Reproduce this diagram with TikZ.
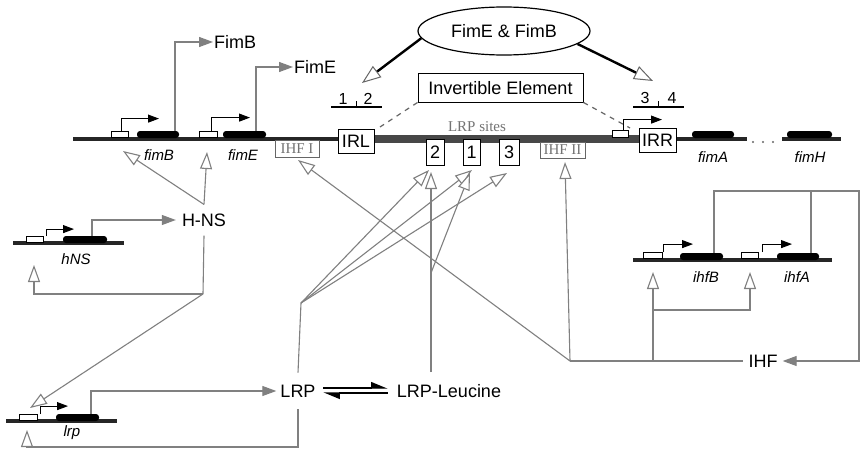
\documentclass[tikz,border=0pt]{standalone}
\usepackage{fontspec}
\setmainfont{Liberation Sans}
\newfontfamily\serfont{Liberation Serif}
\usetikzlibrary{arrows.meta,shapes.geometric,calc,backgrounds}
\begin{document}
\begin{tikzpicture}[x=1pt,y=-1pt,
  big/.style={font=\fontsize{18}{20}\selectfont, inner sep=1pt},
  num/.style={font=\fontsize{16}{18}\selectfont, inner sep=0pt},
  gl/.style={font=\fontsize{15}{17}\selectfont\itshape, inner sep=0pt},
  conn/.style={draw=black!50, line width=1.1pt},
  hol/.style={-{Triangle[length=17pt,width=12pt,fill=white,line width=1.1pt]}},
  fil/.style={-{Triangle[length=14pt,width=10pt]}},
  dna/.style={line width=3.2pt, black!85},
  band/.style={line width=8pt, black!72},
  gene/.style={fill=black, rounded corners=3pt, minimum height=7pt, inner sep=0pt},
  prom/.style={draw=black, fill=white, line width=0.8pt, minimum height=6pt, inner sep=0pt},
  parr/.style={line width=1pt, black, -{Triangle[length=11pt,width=8pt]}},
  box/.style={draw=black, fill=white, line width=1pt, inner sep=0pt, font=\fontsize{18}{20}\selectfont},
  sbox/.style={draw=black!60, fill=white, line width=1pt, inner sep=0pt, font=\fontsize{15}{16}\selectfont\serfont, text=black!55},
  thk/.style={line width=2.4pt, black, -{Triangle[length=19pt,width=14pt,fill=white,color=black!60,line width=1pt]}},
  dsh/.style={draw=black!60, line width=1.2pt, dash pattern=on 5pt off 5pt},
  eqa/.style={line width=1.4pt, black, -{Triangle[harpoon,length=15pt,width=12pt]}}
]
\useasboundingbox (0,0) rectangle (862,452);

% ---------- main operon region ----------
\node[prom, minimum width=17pt] (pB) at (119.5,134) {};
\node[gene, minimum width=42pt] (gB) at (158,134.5) {};
\node[prom, minimum width=18pt] (pE) at (208,134) {};
\node[gene, minimum width=43pt] (gE) at (244.5,134.5) {};
\node[gl] (lB) at (159,155) {fimB};
\node[gl] (lE) at (243,155) {fimE};

\node[sbox, minimum width=44pt, minimum height=17pt] (IHFI) at (297,148.5) {IHF I};
\node[box, minimum width=36pt, minimum height=24pt] (IRL) at (356,141) {IRL};
\node[box, minimum width=18pt, minimum height=26pt] (b2) at (435,152) {2};
\node[box, minimum width=17pt, minimum height=26pt] (b1) at (471.5,152) {1};
\node[box, minimum width=20pt, minimum height=26pt] (b3) at (509,152) {3};
\node[sbox, minimum width=45pt, minimum height=16pt] (IHFII) at (562.5,150) {IHF II};
\node[box, minimum width=37pt, minimum height=24pt] (IRR) at (657.5,140.5) {IRR};
\node[font=\fontsize{15}{17}\selectfont\serfont, text=black!55, inner sep=0pt] (sites) at (477,127) {LRP sites};
\node[prom, minimum width=16pt, minimum height=7pt] (pR) at (620,133.5) {};

\node[gene, minimum width=42pt] (gA) at (713,134.5) {};
\node[gene, minimum width=45pt] (gH2) at (809.5,134.5) {};
\node[gl] (lA) at (713,157) {fimA};
\node[gl] (lH2) at (810,157) {fimH};

\node[big, anchor=west] (FimB) at (213,42) {FimB};
\node[big, anchor=west] (FimE) at (293,67) {FimE};

\node[draw=black, ellipse, line width=1.2pt, minimum width=172pt, minimum height=48pt, big] (FE) at (504,31) {FimE \& FimB};
\node[draw=black, line width=1pt, minimum width=165pt, minimum height=28pt, big, inner sep=0pt] (IE) at (500.5,88) {Invertible Element};

\node[num] (n1) at (343,99) {1};
\node[num] (n2) at (368,99) {2};
\node[num] (n3) at (645,98) {3};
\node[num] (n4) at (672,98) {4};

% ---------- hNS ----------
\node[prom, minimum width=17pt] (pH) at (34.5,239.5) {};
\node[gene, minimum width=44pt] (gH) at (85,239.5) {};
\node[gl] (lHn) at (76,259) {hNS};
\node[big, inner xsep=6pt, inner ysep=9pt] (HNS) at (204,220) {H-NS};

% ---------- lrp ----------
\node[prom, minimum width=18pt] (pL) at (28,417.5) {};
\node[gene, minimum width=43pt] (gL) at (77.5,417.5) {};
\node[gl] (lL) at (72,433) {lrp};
\node[big, inner xsep=4pt, inner ysep=12pt] (LRP) at (298,391) {LRP};
\node[big, inner xsep=4pt, inner ysep=12pt] (LRPL) at (449,391) {LRP-Leucine};

% ---------- ihf ----------
\node[prom, minimum width=19pt] (pI1) at (652.5,255.5) {};
\node[gene, minimum width=43pt] (gI1) at (701.5,256.5) {};
\node[prom, minimum width=17pt] (pI2) at (749.5,255.5) {};
\node[gene, minimum width=42pt] (gI2) at (798,256.5) {};
\node[gl] (lI1) at (706,277) {ihfB};
\node[gl] (lI2) at (797,277) {ihfA};
\node[big, inner xsep=5pt] (IHF) at (763,361) {IHF};

% ---------- coordinates ----------
\coordinate (m0) at (73,139);
\coordinate (m1) at (340,139);
\coordinate (m2) at (372,139);
\coordinate (m3) at (641,139);
\coordinate (m4) at (674,139);
\coordinate (m5) at (747,139);
\coordinate (m6) at (782,139);
\coordinate (m7) at (841,139);
\coordinate (tB) at (123,151);
\coordinate (tE) at (207,152);
\coordinate (J1) at (203,294);
\coordinate (tH) at (34,265);
\coordinate (tL) at (30,408);
\coordinate (cLb) at (27,447);
\coordinate (tLb) at (27,430);
\coordinate (J2) at (301,303);
\coordinate (t2a) at (429,170);
\coordinate (t1a) at (472,170);
\coordinate (t3a) at (507,173);
\coordinate (t2b) at (431,172);
\coordinate (J5) at (431,273);
\coordinate (t1b) at (470,173);
\coordinate (J3) at (570,361);
\coordinate (tI1) at (298,160);
\coordinate (tI2) at (565,162);
\coordinate (J4) at (653,361);
\coordinate (J6) at (653,310);
\coordinate (tI3) at (653,272);
\coordinate (tI4) at (750,272);
\coordinate (K1) at (859,191);
\coordinate (K2) at (811,191);
\coordinate (t12) at (362,83);
\coordinate (t34) at (653,81);
\coordinate (d1) at (380,127);
\coordinate (d2) at (630,128);

\begin{pgfonlayer}{background}
  \fill[white] (0,0) rectangle (862,452);
  % DNA
  \draw[dna] (m0) -- (m1);
  \draw[band] (m2) -- (m3);
  \draw[dna] (m4) -- (m5);
  \draw[dna] (m6) -- (m7);
  \foreach \x in {753,763,773} \fill[black!60] (\x,142) circle (1.1pt);
  \draw[dna] (13,243) -- (124,243);
  \draw[dna] (6,421) -- (117,421);
  \draw[dna] (633,260) -- (832,260);
\end{pgfonlayer}

% promoter arrows
\draw[parr] ([xshift=1.5pt]pB.north) -- ++(0,-12) -- ++(38,0);
\draw[parr] ([xshift=3pt]pE.north) -- ++(0,-13) -- ++(39,0);
\draw[parr] ([xshift=3pt]pR.north) -- ++(0,-10) -- ++(39,0);
\draw[parr] ([xshift=11.5pt]pH.north) -- ++(0,-7) -- ++(28,0);
\draw[parr] ([xshift=12pt]pL.north) -- ++(0,-8) -- ++(28,0);
\draw[parr] ([xshift=10.5pt]pI1.north) -- ++(0,-8) -- ++(30,0);
\draw[parr] ([xshift=12.5pt]pI2.north) -- ++(0,-8) -- ++(30,0);

% 1|2 and 3|4 marks
\draw[line width=1.5pt] (331,107) -- (382,107);
\draw[line width=1pt] (356,101) -- (356,107);
\draw[line width=1.5pt] (633,107) -- (684,107);
\draw[line width=1pt] (658,101) -- (658,107);

% recombinase
\draw[thk] (FE.185) -- (t12);
\draw[thk] (FE.350) -- (t34);
\draw[dsh] (IE.south west) -- (d1);
\draw[dsh] (IE.south east) -- (d2);

% gene products
\draw[conn, fil] ([xshift=17pt]gB.north) |- (FimB.west);
\draw[conn, fil] ([xshift=11.5pt]gE.north) |- (FimE.west);
\draw[conn, fil] ([xshift=7pt]gH.north) |- (HNS.west);
\draw[conn, fil] ([xshift=13.5pt]gL.north) |- (LRP.west);

% H-NS regulation
\draw[conn, hol] (HNS.north) -- (tB);
\draw[conn, hol] (HNS.north) -- (tE);
\draw[conn] (HNS.south) -- (J1);
\draw[conn, hol] (J1) -| (tH);
\draw[conn, hol] (J1) -- (tL);

% LRP regulation
\draw[conn, hol] (LRP.south) |- (cLb) -- (tLb);
\draw[conn] (LRP.north) -- (J2);
\draw[conn, hol] (J2) -- (t2a);
\draw[conn, hol] (J2) -- (t1a);
\draw[conn, hol] (J2) -- (t3a);
\draw[conn, hol] ([xshift=-18pt]LRPL.north) -- (t2b);
\draw[conn, hol] (J5) -- (t1b);

% equilibrium
\draw[eqa, shorten <=3.5pt, shorten >=5pt] ([yshift=3pt]LRP.east) -- ([yshift=3pt]LRPL.west);
\draw[eqa, shorten <=5pt, shorten >=3.5pt] ([yshift=-2pt]LRPL.west) -- ([yshift=-2pt]LRP.east);

% IHF regulation
\draw[conn, hol] (J3) -- (tI1);
\draw[conn, hol] (J3) -- (tI2);
\draw[conn] (J3) -- (IHF.west);
\draw[conn, hol] (J4) -- (tI3);
\draw[conn, hol] (J6) -| (tI4);
\draw[conn, fil] ([xshift=12.5pt]gI1.north) |- (K1) |- (IHF.east);
\draw[conn] ([xshift=13pt]gI2.north) -- (K2);
\end{tikzpicture}
\end{document}
